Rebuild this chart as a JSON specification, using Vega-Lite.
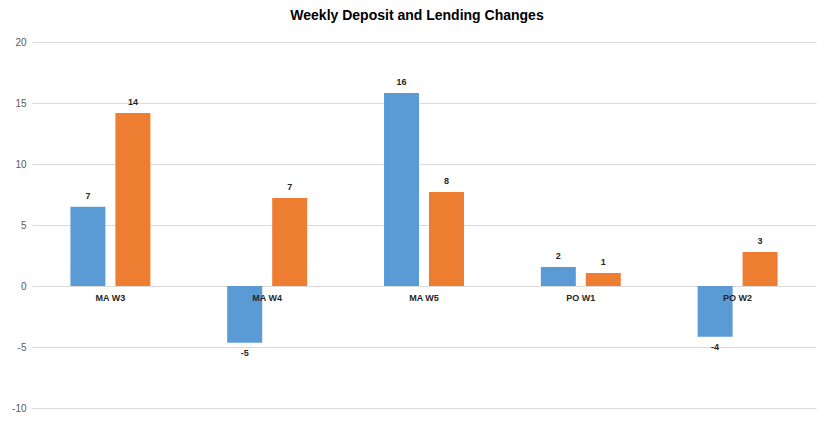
{
  "$schema": "https://vega.github.io/schema/vega-lite/v6.json",
  "autosize": {"type": "none"},
  "padding": {"left": 32, "top": 42, "right": 16, "bottom": 17},
  "width": 784,
  "height": 366,
  "background": "white",
  "title": {
    "text": "Weekly Deposit and Lending Changes",
    "anchor": "middle",
    "frame": "group",
    "font": "Liberation Sans",
    "fontSize": 14,
    "fontWeight": "bold",
    "color": "#000000",
    "offset": 14,
    "dx": -7
  },
  "config": {
    "view": {"stroke": null},
    "font": "Liberation Sans",
    "locale": {"number": {"decimal": ".", "thousands": ",", "grouping": [3], "currency": ["$", ""], "minus": "-"}}
  },
  "data": {
    "values": [
      {"week": "MA W3", "series": "Deposits", "value": 6.5},
      {"week": "MA W3", "series": "Lending", "value": 14.18},
      {"week": "MA W4", "series": "Deposits", "value": -4.65},
      {"week": "MA W4", "series": "Lending", "value": 7.21},
      {"week": "MA W5", "series": "Deposits", "value": 15.82},
      {"week": "MA W5", "series": "Lending", "value": 7.7},
      {"week": "PO W1", "series": "Deposits", "value": 1.56},
      {"week": "PO W1", "series": "Lending", "value": 1.07},
      {"week": "PO W2", "series": "Deposits", "value": -4.16},
      {"week": "PO W2", "series": "Lending", "value": 2.79}
    ]
  },
  "encoding": {
    "x": {
      "field": "week",
      "type": "nominal",
      "sort": null,
      "axis": null,
      "scale": {"paddingInner": 0.49, "paddingOuter": 0.245}
    }
  },
  "layer": [
    {
      "mark": {"type": "bar"},
      "encoding": {
        "xOffset": {"field": "series", "type": "nominal", "scale": {"paddingInner": 0.222, "paddingOuter": 0}},
        "y": {
          "field": "value",
          "type": "quantitative",
          "scale": {"domain": [-10, 20], "nice": false, "zero": false},
          "axis": {
            "values": [-10, -5, 0, 5, 10, 15, 20],
            "title": null,
            "domain": false,
            "ticks": false,
            "labelPadding": 6,
            "labelFontSize": 10,
            "labelColor": "#595959",
            "gridColor": "#D9D9D9",
            "gridWidth": 1
          }
        },
        "color": {
          "field": "series",
          "type": "nominal",
          "scale": {"domain": ["Deposits", "Lending"], "range": ["#5B9BD5", "#ED7D31"]},
          "legend": null
        }
      }
    },
    {
      "transform": [{"filter": "datum.value >= 0"}],
      "mark": {"type": "text", "baseline": "bottom", "dy": -6, "fontSize": 9, "fontWeight": "bold", "color": "#262626"},
      "encoding": {
        "xOffset": {"field": "series", "type": "nominal"},
        "y": {"field": "value", "type": "quantitative"},
        "text": {"field": "value", "type": "quantitative", "format": ".0f"}
      }
    },
    {
      "transform": [{"filter": "datum.value < 0"}],
      "mark": {"type": "text", "baseline": "top", "dy": 6, "fontSize": 9, "fontWeight": "bold", "color": "#262626"},
      "encoding": {
        "xOffset": {"field": "series", "type": "nominal"},
        "y": {"field": "value", "type": "quantitative"},
        "text": {"field": "value", "type": "quantitative", "format": ".0f"}
      }
    },
    {
      "transform": [{"filter": "datum.series == 'Deposits'"}],
      "mark": {"type": "text", "baseline": "top", "dy": 8, "fontSize": 9, "fontWeight": "bold", "color": "#262626"},
      "encoding": {
        "y": {"datum": 0},
        "text": {"field": "week", "type": "nominal"}
      }
    }
  ]
}
